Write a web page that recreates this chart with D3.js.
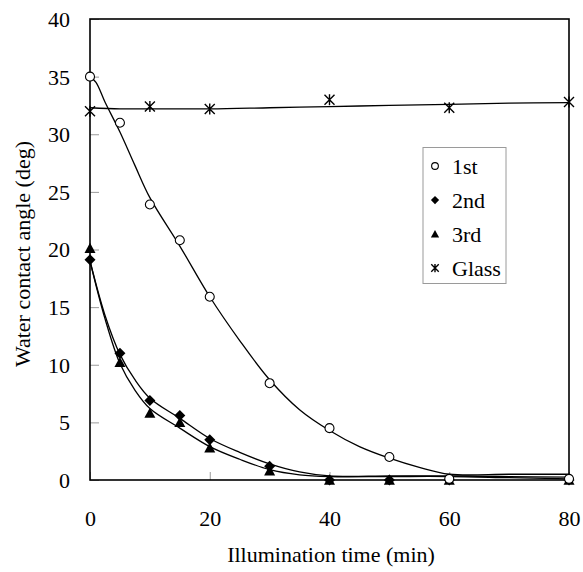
<!DOCTYPE html>
<html><head><meta charset="utf-8">
<script src="https://cdn.jsdelivr.net/npm/d3@7"></script>
</head><body style="margin:0">
<script>
// ---- data ----
const timeFirst = [0, 5, 10, 15, 20, 30, 40, 50, 60, 80];
const first  = [35.0, 31.0, 23.9, 20.8, 15.9, 8.4, 4.5, 2.0, 0.1, 0.1];
const timeSecond = [0, 5, 10, 15, 20, 30, 40, 50, 60, 80];
const second = [19.1, 11.0, 6.9, 5.6, 3.5, 1.2, 0.0, 0.0, 0.0, 0.0];
const timeThird = [0, 5, 10, 15, 20, 30, 40, 50, 60, 80];
const third  = [20.1, 10.2, 5.8, 5.0, 2.8, 0.8, 0.0, 0.0, 0.0, 0.0];
const timeGlass = [0, 10, 20, 40, 60, 80];
const glass  = [32.0, 32.4, 32.2, 33.0, 32.3, 32.8];

// fitted trend lines
const fitTime1 = [0, 1, 2.5, 5, 7.5, 10, 15, 20, 25, 30, 35, 40, 45, 50, 55, 60, 70, 80];
const fit1     = [35.0, 34.5, 32.8, 30.2, 27.3, 24.5, 20.3, 15.9, 12.1, 8.7, 6.1, 4.3, 2.9, 1.9, 1.1, 0.5, 0.5, 0.5];
const fitTime2 = [0, 2.5, 5, 7.5, 10, 15, 20, 25, 30, 35, 40, 50, 60, 70, 80];
const fit2     = [19.0, 14.3, 10.9, 8.7, 7.1, 5.35, 3.6, 2.4, 1.4, 0.7, 0.35, 0.35, 0.35, 0.3, 0.25];
const fitTime3 = [0, 2.5, 5, 7.5, 10, 15, 20, 25, 30, 35, 40, 50, 60, 70, 80];
const fit3     = [19.0, 14.0, 10.1, 7.8, 6.2, 4.5, 2.9, 1.8, 0.9, 0.45, 0.3, 0.3, 0.3, 0.2, 0.1];
const fitTimeG = [0, 5, 10, 20, 30, 40, 50, 60, 70, 80];
const fitG     = [32.3, 32.2, 32.2, 32.2, 32.3, 32.4, 32.5, 32.6, 32.7, 32.75];

const xTicks = [0, 20, 40, 60, 80];
const yTicks = [0, 5, 10, 15, 20, 25, 30, 35, 40];
const legendLabels = ["1st", "2nd", "3rd", "Glass"];
const xTitle = "Illumination time (min)";
const yTitle = "Water contact angle (deg)";

// ---- layout ----
const W = 583, H = 572;
const L = 90, R = 569, T = 19, B = 480;
const FONT = '"Liberation Serif"';
const FS = 22;
const svg = d3.select("body").append("svg").attr("width", W).attr("height", H)
  .style("display", "block").style("font-family", FONT);
const x = d3.scaleLinear().domain([0, 80]).range([L, R]);
const y = d3.scaleLinear().domain([0, 40]).range([B, T]);

// ticks (inside, gray)
const gx = svg.append("g").attr("transform", `translate(0,${B})`)
  .call(d3.axisBottom(x).tickValues(xTicks).tickSizeInner(-8).tickSizeOuter(0).tickPadding(20));
const gy = svg.append("g").attr("transform", `translate(${L},0)`)
  .call(d3.axisLeft(y).tickValues(yTicks).tickSizeInner(-9).tickSizeOuter(0).tickPadding(20));
[gx, gy].forEach(g => {
  g.attr("font-family", null).attr("font-size", null).style("font-family", FONT);
  g.select(".domain").remove();
  g.selectAll(".tick line").attr("stroke", "#9a9a9a").attr("stroke-width", 1);
  g.selectAll(".tick text").style("font-family", FONT).attr("font-size", FS).attr("fill", "#000");
});
gx.selectAll(".tick text").attr("dy", "0.71em").attr("y", 30);
gy.selectAll(".tick text").attr("x", -20).attr("dy", "0.34em");

// frame
svg.append("rect").attr("x", L).attr("y", T).attr("width", R - L).attr("height", B - T)
  .attr("fill", "none").attr("stroke", "#000").attr("stroke-width", 1.6);

// fit lines
const line = d3.line().x(d => x(d[0])).y(d => y(d[1])).curve(d3.curveCatmullRom.alpha(0.5));
const fits = [[fitTime1, fit1], [fitTime2, fit2], [fitTime3, fit3], [fitTimeG, fitG]];
fits.forEach(([t, v]) => {
  svg.append("path").datum(t.map((tt, i) => [tt, v[i]]))
    .attr("d", line).attr("fill", "none").attr("stroke", "#000").attr("stroke-width", 1.3);
});

// markers
function drawMarker(g, type, s) {
  if (type === "circle") {
    g.append("circle").attr("r", s * 0.45).attr("fill", "#fff").attr("stroke", "#000").attr("stroke-width", 1.1);
  } else if (type === "diamond") {
    const h = s * 0.55;
    g.append("path").attr("d", `M0,${-h}L${h},0L0,${h}L${-h},0Z`).attr("fill", "#000");
  } else if (type === "triangle") {
    const h = s * 0.55;
    g.append("path").attr("d", `M0,${-h}L${h},${h * 0.85}L${-h},${h * 0.85}Z`).attr("fill", "#000");
  } else if (type === "star") {
    const h = s * 0.5;
    g.append("path").attr("d", `M${-h},${-h}L${h},${h}M${h},${-h}L${-h},${h}M0,${-h * 1.1}L0,${h * 1.1}`)
      .attr("stroke", "#000").attr("stroke-width", 1.4).attr("fill", "none");
  }
}
const series = [
  {t: timeSecond, v: second, type: "diamond"},
  {t: timeThird, v: third, type: "triangle"},
  {t: timeFirst, v: first, type: "circle"},
  {t: timeGlass, v: glass, type: "star"}
];
series.forEach(s => {
  s.t.forEach((tt, i) => {
    const g = svg.append("g").attr("transform", `translate(${x(tt)},${y(s.v[i])})`);
    drawMarker(g, s.type, 10);
  });
});

// legend
const lg = svg.append("g");
lg.append("rect").attr("x", 423).attr("y", 147.5).attr("width", 83).attr("height", 136)
  .attr("fill", "#fff").attr("stroke", "#9a9a9a").attr("stroke-width", 1);
const ltypes = ["circle", "diamond", "triangle", "star"];
legendLabels.forEach((lab, i) => {
  const cy = 166 + i * 34;
  const g = lg.append("g").attr("transform", `translate(435,${cy})`);
  drawMarker(g, ltypes[i], 7.5);
  lg.append("text").attr("x", 452).attr("y", cy).attr("dy", "0.35em")
    .style("font-family", FONT).attr("font-size", FS).text(lab);
});

// axis titles
svg.append("text").attr("x", 331).attr("y", 562).attr("text-anchor", "middle")
  .style("font-family", FONT).attr("font-size", FS).text(xTitle);
svg.append("text").attr("transform", `translate(30,254) rotate(-90)`)
  .attr("text-anchor", "middle").style("font-family", FONT).attr("font-size", FS).text(yTitle);
</script>
</body></html>
